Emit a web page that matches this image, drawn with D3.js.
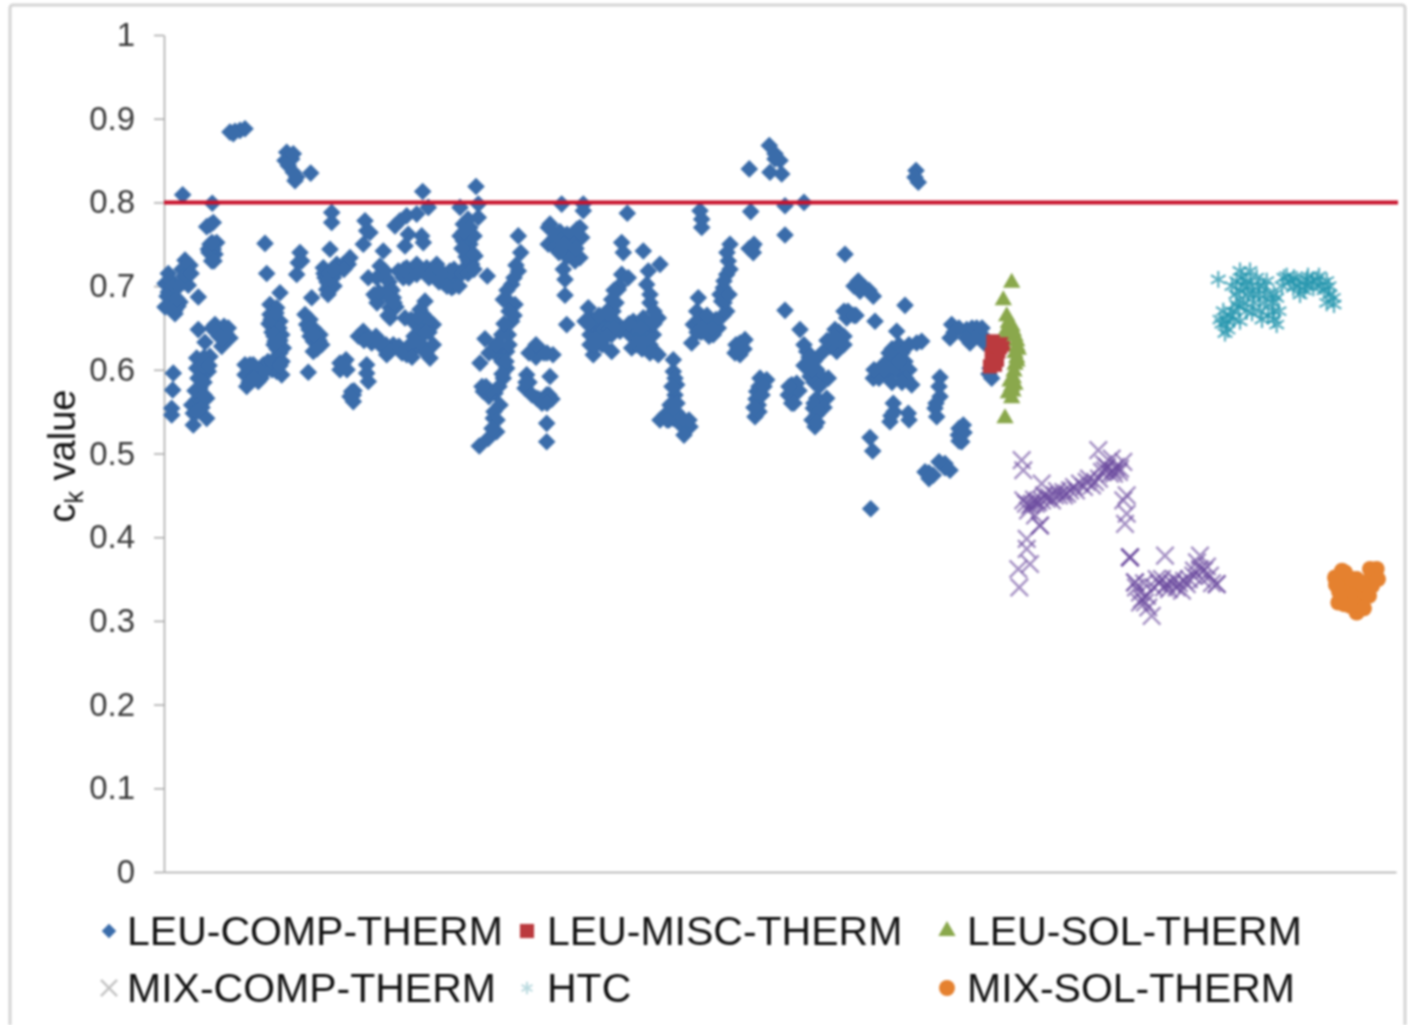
<!DOCTYPE html>
<html>
<head>
<meta charset="utf-8">
<script src="https://cdn.jsdelivr.net/npm/d3@7"></script>
<style>
  html, body { margin: 0; padding: 0; background: #fff; }
  svg { display: block; font-family: "Liberation Sans", Arial, sans-serif; filter: blur(0.8px); }
</style>
</head>
<body>
<div id="chart"></div>
<script>
// case number on x (axis has no labels), ck value on y
var yTicks = [0, 0.1, 0.2, 0.3, 0.4, 0.5, 0.6, 0.7, 0.8, 0.9, 1];
var threshold = [[0, 0.8], [1234, 0.8]];

var leuComp = [
  [4.3,.715],[1,.703],[4.3,.693],[1,.675],[11,.671],[16,.681],[11,.667],[21,.731],[26,.725],[22.7,.713],[19.3,.705],[24.3,.701],[7.7,.703],[34.3,.687],
  [66,.884],[71,.885],[76,.886],[81,.888],[69.3,.882],
  [122.7,.86],[121,.85],[127.7,.852],[124.3,.844],[129.3,.836],[131,.826],[132.7,.83],[129.3,.858],[146.7,.835],
  [18.7,.809],[48.3,.799],[46,.773],[42.7,.771],[49.3,.776],[46,.75],[52.7,.752],[44.3,.744],[51,.738],[47.7,.73],[49.3,.744],
  [101,.751],[102.7,.715],[167.7,.788],[167.7,.776],[136,.74],[134.3,.728],[132.7,.714],[137.7,.73],
  [166,.744],[159.3,.722],[161,.71],[162.7,.696],[167.7,.718],[172.7,.726],[179.3,.726],[186,.734],[184.3,.726],[166,.704],[169.3,.71],
  [201,.778],[202.7,.766],[199.3,.75],[206,.764],[219.3,.742],[216,.724],[221,.718],[204.3,.71],[212.7,.71],
  [231,.772],[242.7,.784],[252.7,.786],[264.3,.794],[236,.778],[258.7,.813],[244.3,.762],[257.7,.76],[259.3,.752],[241,.748],
  [296,.794],[312,.819],[314.3,.798],[314.3,.782],[299.3,.774],[302.7,.762],[306,.75],[299.3,.754],[311,.736],[304.3,.73],[301,.746],
  [234.3,.718],[242.7,.722],[252.7,.726],[252.7,.714],[239.3,.71],[262.7,.722],[272.7,.726],[269.3,.718],[279.3,.714],[286,.718],[279.3,.704],[287.7,.698],[294.3,.714],[301,.722],[307.7,.726],
  [323.3,.712],[226,.698],[229.3,.686],[226,.674],[226,.662],[212.7,.686],
  [116,.692],[106,.678],[112.7,.674],[106,.666],[116,.658],[109.3,.65],[117.7,.642],[111,.634],[119.3,.626],[112.7,.614],[112.7,.598],[117.7,.594],
  [81,.606],[89.3,.606],[99.3,.606],[81,.594],[91,.596],[101,.598],[82.7,.58],[94.3,.586],[86,.606],
  [141,.666],[142.7,.654],[149.3,.65],[156,.642],[149.3,.634],[157.7,.63],[149.3,.622],[147.7,.686],[144.3,.597],
  [179.3,.608],[189.3,.57],[187.7,.574],[189.3,.562],[202.7,.606],[202.7,.596],[204.3,.586],
  [194.3,.64],[199.3,.646],[207.7,.632],[219.3,.63],[222.7,.618],[229.3,.63],[242.7,.618],[249.3,.624],[241,.662],[252.7,.658],[261,.682],[259.3,.666],[269.3,.654],[252.7,.642],[269.3,.63],[266,.614],[256,.672],
  [34.3,.648],[41,.633],[51,.654],[57.7,.646],[64.3,.65],[66,.638],[57.7,.628],[61,.634],
  [46,.616],[32.7,.614],[32.7,.602],[44.3,.598],[37.7,.592],[36,.578],[42.7,.566],[27.7,.558],[29.3,.548],[42.7,.542],[29.3,.534],[32.7,.564],
  [9.3,.596],[8.7,.576],[7.7,.554],[7.7,.546],
  [354.3,.76],[356.7,.74],[354.3,.718],[347.7,.702],[339.3,.684],[351,.678],[347.7,.658],[344.3,.642],[337.7,.642],[321,.637],[332.7,.618],[342.7,.622],[342.7,.602],[316,.608],[339.3,.59],[319.3,.574],[331,.572],[336,.558],[329.3,.542],[332.7,.526],[324.3,.518],[315.3,.509],
  [369.3,.622],[376,.624],[362.7,.594],[361,.578],[382.7,.57],[372.7,.566],[382.7,.536],[382.7,.514],[384.3,.77],[384.3,.75],
  [397.7,.798],[419.3,.798],[419.3,.79],[386,.774],[391,.758],[401,.758],[416,.77],[409.3,.758],[417.7,.758],[391,.746],[409.3,.742],[416,.734],[411,.73],[404.3,.75],
  [399.3,.72],[401,.708],[401,.689],[402.7,.654],[463.3,.787],[457.7,.752],[459.3,.74],[479.3,.742],[496,.726],[484.3,.718],[482.7,.702],[457.7,.714],[464.3,.71],[454.3,.696],[447.7,.684],
  [486,.68],[424.3,.674],[421,.658],[432.7,.654],[442.7,.658],[451,.658],[426,.642],[436,.642],[447.7,.642],[456,.646],[429.3,.618],[426,.63],[447.7,.622],
  [469.3,.658],[479.3,.662],[494.3,.662],[466,.642],[476,.638],[489.3,.642],[467.7,.626],[491,.622],[494.3,.618],
  [509.3,.612],[509.3,.598],[512.7,.582],[511,.57],[506,.558],[501,.546],[496,.54],[509.3,.542],[517.7,.542],[522.7,.53],[526,.532],
  [536,.79],[537.7,.78],[537.7,.77],[566,.75],[564.3,.73],[562.7,.714],[559.3,.698],[557.7,.682],[562.7,.67],[586.7,.789],[587.7,.746],[589.3,.74],
  [534.3,.686],[532.7,.67],[529.3,.654],[539.3,.662],[546,.654],[554.3,.65],[549.3,.642],[527.7,.632],[576,.632],[581,.636],[571,.62],[576,.618],
  [585.3,.84],[605.3,.868],[611,.858],[616,.85],[606,.836],[617.7,.834],[611,.852],[621,.796],[640,.8],[621,.761],
  [752,.838],[751,.83],[754.3,.824],[681,.738],[694.3,.706],[701,.698],[709.3,.688],[696,.694],[621,.671],[686,.666],[682.7,.662],
  [636,.648],[741,.677],[711,.658],[671,.648],[676,.634],[666,.628],[672.7,.622],[642.7,.622],[644.3,.61],[646,.592],[659.3,.588],[664.3,.59],[652.7,.6],
  [596,.59],[602.7,.588],[592.7,.574],[594.3,.558],[591,.544],[627.7,.582],[632.7,.584],[624.3,.57],[627.7,.56],
  [652.7,.566],[662.7,.566],[649.3,.554],[652.7,.546],[651,.532],
  [732.7,.646],[752.7,.632],[757.7,.634],[734.3,.626],[731,.612],[719.3,.606],[741,.61],[709.3,.59],[724.3,.594],[737.7,.594],[747.7,.582],[776,.591],[776,.568],[771,.554],[772.7,.544],
  [729.3,.56],[726,.538],[744.3,.548],[799.3,.534],[794.3,.522],[797.7,.514],[781,.488],[786,.48],[761,.478],[769.3,.474],
  [706,.519],[708.7,.503],[706.7,.434],[787.7,.654],[786,.638],[802.7,.648],[812.7,.65],[806,.632],[817.7,.642],[827.7,.59],[826,.602],
  // tight parts of the clusters
  [6,.708],[9,.7],[3,.688],[8,.675],[14,.676],[13,.685],[18,.72],[23,.722],[20,.712],[15,.7],[27,.715],[45,.74],[48,.752],[50,.73],
  [38,.605],[40,.615],[36,.6],[40,.585],[34,.59],[35,.565],[38,.555],[31,.575],[33,.55],[40,.57],[45,.605],
  [54,.65],[60,.652],[55,.64],[62,.643],[58,.637],[52,.645],[48,.65],
  [85,.6],[95,.6],[88,.59],[97,.59],[85,.585],[90,.59],[100,.603],[104,.61],[108,.6],[108,.61],
  [110,.66],[113,.65],[105,.655],[115,.65],[110,.64],[108,.645],[116,.635],[113,.625],[116,.62],[110,.63],[107,.66],[112,.668],[118,.61],[116,.605],
  [146,.66],[152,.645],[146,.64],[155,.635],[153,.625],[145,.648],[150,.642],[176,.6],[182,.612],[176,.608],[183,.6],[190,.575],[186,.568],
  [165,.7],[160,.715],[170,.7],[165,.715],[175,.72],[180,.72],[170,.72],[163,.705],[164,.69],
  [222,.71],[225,.705],[228,.695],[222,.69],[232,.675],[230,.68],[210,.69],[213,.68],[215,.693],[224,.665],
  [200,.635],[205,.638],[212,.64],[216,.63],[222,.63],[226,.622],[235,.628],[238,.62],[246,.63],[250,.64],[255,.65],[262,.655],[265,.645],[258,.63],[262,.62],[248,.615],[264,.66],[247,.66],[262,.645],[254,.663],
  [275,.72],[283,.71],[290,.7],[283,.7],[290,.72],[295,.7],[275,.705],[265,.71],[245,.71],[240,.72],[298,.715],[304,.715],[310,.72],[302,.735],[308,.74],[296,.76],[304,.78],[306,.77],[310,.76],[300,.765],[298,.745],
  [352,.725],[350,.71],[343,.695],[346,.68],[350,.665],[345,.67],[340,.655],[335,.63],[338,.61],[342,.61],[345,.63],[338,.595],[335,.58],[325,.568],[326,.575],[330,.55],[333,.54],[328,.53],[322,.58],[318,.58],[325,.62],[332,.63],
  [365,.585],[368,.57],[375,.565],[378,.56],[362,.585],[372,.615],[365,.62],[380,.62],[372,.63],[383,.62],[389,.618],[386,.592],[385,.57],[388,.565],[383,.56],
  [396,.765],[403,.762],[397,.755],[410,.75],[413,.768],[400,.74],[403,.735],[412,.745],[395,.74],[400,.75],
  [428,.655],[436,.655],[428,.66],[440,.648],[445,.648],[450,.65],[432,.63],[438,.63],[430,.63],[424,.655],[435,.665],[443,.67],[449,.67],[452,.68],[455,.7],[450,.695],[443,.64],
  [470,.65],[474,.65],[482,.65],[486,.655],[472,.63],[482,.63],[486,.63],[465,.655],[490,.655],[477,.65],[478,.625],[486,.62],[486,.69],[490,.67],
  [511,.59],[508,.56],[505,.54],[512,.55],[515,.54],[518,.533],[520,.54],[503,.54],[513,.56],[508,.58],[520,.522],[525,.54],
  [563,.74],[566,.72],[560,.706],[556,.69],[560,.68],[565,.69],[559,.665],
  [535,.66],[537,.645],[533,.645],[545,.64],[552,.66],[540,.652],[548,.65],[543,.665],[585,.745],[590,.75],[572,.63],[580,.625],[574,.625],
  [690,.7],[697,.7],[705,.695],[692,.665],[680,.67],[684,.67],[690,.665],
  [668,.63],[675,.645],[680,.64],[663,.635],[658,.62],[670,.64],[680,.63],[650,.61],[655,.595],[650,.585],[640,.605],[645,.615],[640,.63],[655,.58],[648,.6],
  [595,.58],[600,.58],[592,.565],[595,.55],[598,.57],[590,.555],[630,.57],[635,.575],[630,.56],[625,.58],
  [655,.56],[650,.56],[660,.555],[655,.55],[648,.54],[653,.537],
  [728,.625],[735,.63],[725,.61],[730,.6],[738,.62],[735,.61],[745,.63],[745,.6],[715,.59],[720,.6],[710,.6],[742,.59],[725,.62],[728,.585],[738,.585],
  [775,.58],[772,.56],[730,.55],[727,.545],[745,.54],[795,.53],[800,.525],[795,.515],
  [790,.645],[795,.65],[808,.65],[812,.64],[818,.65],[820,.632],[802,.638],[825,.595],[781,.483],[765,.477],[765,.47],[775,.49]
];
var leuMisc = [[837.7,.632],[829.3,.634],[834.3,.622],[827.7,.618],[831,.606],[826,.604],[839,.63],[830,.622],[833,.612],[829,.612],[836,.627]];
var leuSol = [
  [847.7,.704],[839.3,.683],[842.7,.664],[844.3,.656],[849.3,.646],[852.7,.634],[854.3,.624],[852.7,.614],[851,.606],
  [849.3,.59],[847.7,.58],[844.3,.572],[847.7,.566],[841,.542],[842.7,.648],
  [851,.64],[853,.628],[848,.652],[844,.645],[850,.598],[846,.586],[849,.574],[853,.61],[851,.62],[851,.582]
];
var mixComp = [
  [857.7,.492],[859.3,.48],[877.7,.464],[859.3,.444],[866,.438],[874.3,.442],[882.7,.446],[891,.45],[899.3,.454],[906,.456],[916,.464],[922.7,.466],[931,.466],
  [934.3,.504],[941,.48],[949.3,.48],[956,.482],[947.7,.494],[959.3,.49],[876,.414],[871,.426],[962.7,.45],[959.3,.444],[962.7,.428],[961,.416],
  [862.7,.398],[862.7,.386],[866,.368],[854.3,.362],[855.3,.34],[966,.376],[971,.346],[976,.334],[981,.322],[987.7,.306],[984.3,.316],
  [992.7,.35],[1001,.378],[1002.7,.344],[1012.7,.34],[1022.7,.344],[1029.3,.354],[1036,.378],[1036,.362],[1046,.354],[1052.7,.344],
  [868,.44],[872,.44],[878,.444],[885,.448],[888,.444],[895,.45],[903,.452],[910,.46],[912,.456],[920,.46],[925,.47],[928,.462],[935,.47],[938,.478],[943,.484],[946,.476],[952,.484],[950,.476],[940,.487],[955,.478],[880,.45],[893,.455],[900,.45],[870,.445],[862,.44],[864,.432],
  [995,.345],[998,.35],[1005,.338],[1008,.345],[1015,.345],[1018,.336],[1010,.35],[1025,.35],[1030,.36],[1033,.37],[1038,.35],[1040,.36],[1043,.365],[1048,.345],[972,.34],[978,.326],[983,.33],[990,.34],[980,.345],[976,.322],[1020,.348],[1000,.34],
  [876,.414],[966,.376],[966,.376],[1052.7,.344],[971,.346]
];
var htc = [
  [1054.3,.708],[1076,.718],[1086,.718],[1072.7,.706],[1082.7,.706],[1092.7,.71],[1102.7,.706],[1076,.694],[1089.3,.69],[1102.7,.69],[1112.7,.686],
  [1059.3,.67],[1062.7,.658],[1061,.644],[1072.7,.678],[1082.7,.67],[1096,.67],[1109.3,.67],[1112.7,.654],[1076,.658],
  [1122.7,.712],[1132.7,.708],[1142.7,.708],[1152.7,.708],[1162.7,.706],[1129.3,.698],[1136,.69],[1149.3,.698],[1166,.69],[1162.7,.68],[1169.3,.686],
  [1068,.7],[1078,.71],[1080,.7],[1087,.7],[1095,.7],[1100,.7],[1072,.69],[1084,.69],[1095,.69],[1068,.67],[1075,.675],[1090,.68],[1100,.68],[1108,.68],[1110,.69],[1080,.68],[1066,.665],[1070,.66],[1058,.655],[1064,.648],[1056,.66],[1104,.665],[1110,.66],[1115,.67],[1098,.66],[1088,.668],
  [1118,.7],[1126,.705],[1135,.7],[1142,.7],[1148,.705],[1157,.7],[1160,.695],[1144,.712],[1130,.71],[1165,.7],[1170,.678],[1140,.695],[1120,.71],[1155,.712]
];
var mixSol = [
  [1171,.352],[1181,.358],[1212.7,.362],[1206,.35],[1189.3,.34],[1174.3,.322],[1182.7,.328],[1192.7,.31],[1199.3,.326],[1202.7,.34],[1192.7,.35],[1177.7,.346],[1186,.318],[1211,.354],[1196,.318],
  [1178,.338],[1183,.34],[1190,.33],[1195,.335],[1205,.33],[1208,.342],[1175,.335],[1188,.35],[1198,.345],[1187,.33],[1180,.32],[1190,.32],[1206,.362],[1214,.35],[1172,.343],[1200,.315],[1178,.36]
];

var seriesNames = ["LEU-COMP-THERM", "LEU-MISC-THERM", "LEU-SOL-THERM", "MIX-COMP-THERM", "HTC", "MIX-SOL-THERM"];
var seriesData = [leuComp, leuMisc, leuSol, mixComp, htc, mixSol];

var width = 1408, height = 1025;
var svg = d3.select("#chart").append("svg").attr("width", width).attr("height", height);

svg.append("rect")
  .attr("x", 10).attr("y", 5).attr("width", 1395).attr("height", 1040)
  .attr("rx", 3)
  .attr("fill", "#fff").attr("stroke", "#d4d4d4").attr("stroke-width", 3);

var x = d3.scaleLinear().domain([0, 1232]).range([164, 1396]);
var y = d3.scaleLinear().domain([0, 1]).range([872, 35]);

// y axis
var yAxis = svg.append("g")
  .attr("transform", "translate(164,0)")
  .call(d3.axisLeft(y).tickValues(yTicks).tickFormat(d3.format("~g")).tickSize(10).tickSizeOuter(0).tickPadding(19));
yAxis.select(".domain").attr("stroke", "#a8a8a8").attr("stroke-width", 1.5);
yAxis.selectAll("line").attr("stroke", "#a8a8a8").attr("stroke-width", 1.5);
yAxis.selectAll("text").attr("fill", "#3a3a3a").style("font-size", "33px").style("font-family", "inherit");

// x axis has only the line
var xAxis = svg.append("g")
  .attr("transform", "translate(0,872)")
  .call(d3.axisBottom(x).tickValues([]).tickSizeOuter(0));
xAxis.select(".domain").attr("stroke", "#a8a8a8").attr("stroke-width", 1.5);

// y label
var yLabel = svg.append("text")
  .attr("transform", "translate(75,456) rotate(-90)")
  .attr("text-anchor", "middle")
  .attr("fill", "#111")
  .style("font-size", "38px");
yLabel.append("tspan").text("c");
yLabel.append("tspan").attr("dy", 8).style("font-size", "25px").text("k");
yLabel.append("tspan").attr("dy", -8).text(" value");

function markerStyle(sel, i, legend) {
  var sym = d3.symbol();
  if (i == 0) sel.attr("d", sym.type(d3.symbolSquare).size(legend ? 105 : 155)()).attr("fill", "#3a6caa");
  if (i == 1) sel.attr("d", sym.type(d3.symbolSquare).size(200)()).attr("fill", "#bb3a3e");
  if (i == 2) sel.attr("d", sym.type(d3.symbolTriangle).size(130)()).attr("fill", "#8aa84c");
  if (i == 3) sel.attr("d", sym.type(d3.symbolTimes).size(legend ? 170 : 200)())
    .attr("fill", "none").attr("stroke", legend ? "#c4c4c4" : "#6b4a9e").attr("stroke-width", 2.5).attr("stroke-opacity", legend ? 1 : 0.6);
  if (i == 4) sel.attr("d", sym.type(d3.symbolAsterisk).size(legend ? 110 : 200)())
    .attr("fill", "none").attr("stroke", legend ? "#bcdbe0" : "#2496ad").attr("stroke-width", 2.2).attr("stroke-opacity", legend ? 1 : 0.75);
  if (i == 5) sel.attr("d", sym.type(d3.symbolCircle).size(200)()).attr("fill", "#e5812f");
}

seriesData.forEach(function (data, i) {
  svg.append("g").selectAll("path")
    .data(data)
    .enter()
    .append("path")
    .attr("transform", function (d) {
      return "translate(" + x(d[0]) + "," + y(d[1]) + ")" + (i == 0 ? " rotate(45)" : "");
    })
    .call(markerStyle, i, false);
});

// 0.8 line shows over the markers in the picture
var line = d3.line().x(function (d) { return x(d[0]); }).y(function (d) { return y(d[1]); });
svg.append("path").datum(threshold)
  .attr("d", line).attr("fill", "none").attr("stroke", "#c8102a").attr("stroke-width", 4);

// legend
var legendX = [109, 527, 947];
var legendY = [931, 988];
seriesNames.forEach(function (name, i) {
  var col = i % 3, row = Math.floor(i / 3);
  svg.append("path")
    .attr("transform", "translate(" + legendX[col] + "," + legendY[row] + ")" + (i == 0 ? " rotate(45)" : ""))
    .call(markerStyle, i, true);
  svg.append("text")
    .attr("x", legendX[col] + 18 + (col > 0 ? 2 : 0))
    .attr("y", legendY[row] + 14)
    .attr("fill", "#111")
    .style("font-size", "41px")
    .text(name);
});
</script>
</body>
</html>
